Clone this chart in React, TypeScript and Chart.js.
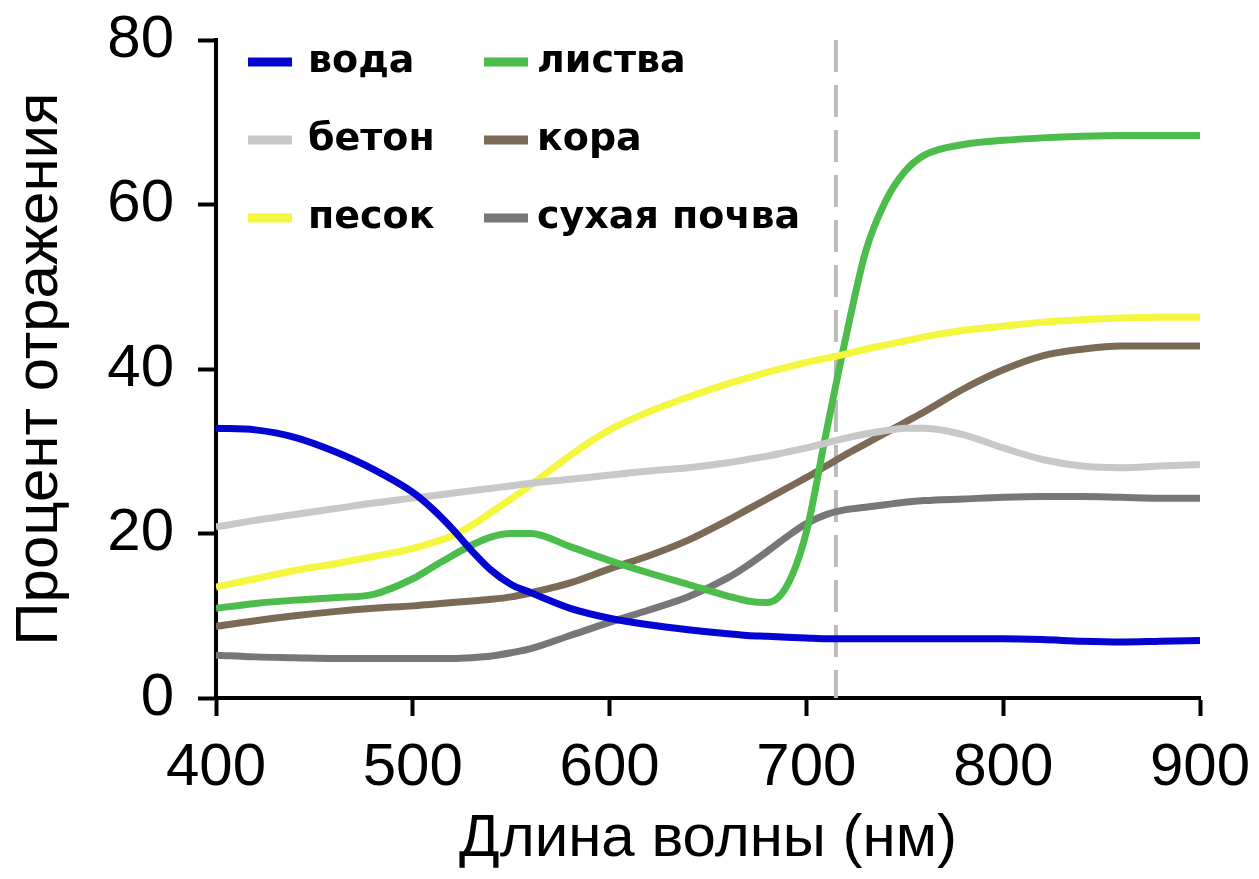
import React, { useEffect, useRef } from "react";
import { Chart, registerables } from "chart.js";

Chart.register(...registerables);

const WAVELENGTHS = [400, 420, 440, 460, 480, 500, 510, 520, 530, 540, 550, 560, 580, 600, 620, 640, 660, 670, 680, 690, 700, 710, 720, 730, 740, 750, 760, 780, 800, 820, 840, 860, 880, 900];

const WATER = [32.8, 32.6, 31.7, 30.0, 27.8, 25.0, 23.0, 20.6, 17.9, 15.5, 13.8, 12.8, 10.9, 9.7, 8.9, 8.3, 7.8, 7.6, 7.5, 7.4, 7.3, 7.2, 7.2, 7.2, 7.2, 7.2, 7.2, 7.2, 7.2, 7.1, 6.9, 6.8, 6.9, 7.0];
const CONCRETE = [20.8, 21.6, 22.3, 23.0, 23.7, 24.3, 24.6, 24.9, 25.2, 25.5, 25.8, 26.1, 26.6, 27.1, 27.6, 28.0, 28.6, 29.0, 29.4, 29.9, 30.4, 31.0, 31.6, 32.1, 32.5, 32.8, 32.8, 32.0, 30.4, 29.0, 28.2, 28.0, 28.2, 28.4];
const SAND = [13.5, 14.5, 15.5, 16.3, 17.2, 18.2, 18.9, 19.7, 21.0, 22.6, 24.2, 25.9, 29.5, 32.6, 34.8, 36.6, 38.2, 38.9, 39.6, 40.2, 40.8, 41.3, 41.8, 42.4, 42.9, 43.4, 43.9, 44.7, 45.2, 45.7, 46.0, 46.2, 46.3, 46.3];
const FOLIAGE = [10.9, 11.5, 11.9, 12.2, 12.6, 14.5, 15.9, 17.3, 18.6, 19.6, 20.0, 20.0, 18.4, 16.7, 15.2, 13.8, 12.4, 11.8, 11.6, 13.6, 20.2, 32.2, 43.8, 54.2, 60.3, 64.0, 66.0, 67.3, 67.8, 68.1, 68.3, 68.4, 68.4, 68.4];
const BARK = [8.7, 9.4, 10.0, 10.5, 10.9, 11.2, 11.4, 11.6, 11.8, 12.0, 12.3, 12.8, 14.0, 15.7, 17.3, 19.2, 21.6, 22.9, 24.2, 25.5, 26.8, 28.2, 29.6, 30.9, 32.2, 33.5, 34.8, 37.6, 39.9, 41.6, 42.4, 42.8, 42.8, 42.8];
const DRY_SOIL = [5.2, 5.0, 4.9, 4.8, 4.8, 4.8, 4.8, 4.8, 4.9, 5.1, 5.5, 6.0, 7.6, 9.2, 10.7, 12.3, 14.6, 16.1, 17.8, 19.6, 21.2, 22.3, 22.9, 23.2, 23.5, 23.8, 24.0, 24.2, 24.4, 24.5, 24.5, 24.4, 24.3, 24.3];

const SERIES_LABELS = ["вода", "бетон", "песок", "листва", "кора", "сухая почва"];
const SERIES_VALUES = [WATER, CONCRETE, SAND, FOLIAGE, BARK, DRY_SOIL];
const SERIES_COLORS = ["#0505d2", "#c8c8c8", "#f4f640", "#4cbd4c", "#7b6a55", "#777777"];

const X_TICKS = [400, 500, 600, 700, 800, 900];
const Y_TICKS = [0, 20, 40, 60, 80];
const MARKER_WAVELENGTH = 715;

const X_TITLE = "Длина волны (нм)";
const Y_TITLE = "Процент отражения";

const AXIS_FONT = { family: "'Liberation Sans', Arial, sans-serif", size: 60 };

const legendPlugin = {
  id: "gridLegend",
  afterDraw(chart: any) {
    const ctx = chart.ctx;
    const colX = [248, 484];
    const textX = [308, 537];
    const rowY = [62, 140, 218];
    ctx.save();
    ctx.font = "bold 38px 'DejaVu Sans', sans-serif";
    ctx.textBaseline = "middle";
    ctx.textAlign = "left";
    chart.data.datasets.forEach((ds: any, i: number) => {
      const col = Math.floor(i / 3);
      const row = i % 3;
      ctx.fillStyle = ds.borderColor;
      ctx.fillRect(colX[col], rowY[row] - 4.5, 44, 9);
      ctx.fillStyle = "#000";
      ctx.fillText(ds.label, textX[col], rowY[row]);
    });
    ctx.restore();
  },
};

const markerPlugin = {
  id: "markerLine",
  beforeDatasetsDraw(chart: any) {
    const { ctx, chartArea, scales } = chart;
    const x = scales.x.getPixelForValue(MARKER_WAVELENGTH);
    ctx.save();
    ctx.strokeStyle = "#bbbbbb";
    ctx.lineWidth = 4;
    ctx.setLineDash([32, 13]);
    ctx.beginPath();
    ctx.moveTo(x, chartArea.top);
    ctx.lineTo(x, chartArea.bottom);
    ctx.stroke();
    ctx.restore();
  },
};

export default function App() {
  const canvasRef = useRef<HTMLCanvasElement | null>(null);

  useEffect(() => {
    if (!canvasRef.current) return;
    const datasets = SERIES_LABELS.map((label, i) => ({
      label,
      data: WAVELENGTHS.map((x, j) => ({ x, y: SERIES_VALUES[i][j] })),
      borderColor: SERIES_COLORS[i],
      backgroundColor: SERIES_COLORS[i],
      borderWidth: 7,
      pointRadius: 0,
      cubicInterpolationMode: "monotone" as const,
      fill: false,
    }));
    const chart = new Chart(canvasRef.current, {
      type: "line",
      data: { datasets },
      options: {
        responsive: false,
        animation: false,
        layout: { padding: { top: 40, right: 59, left: 0, bottom: 0 } },
        plugins: { legend: { display: false }, tooltip: { enabled: false } },
        scales: {
          x: {
            type: "linear",
            min: 400,
            max: 900,
            afterBuildTicks: (scale: any) => {
              scale.ticks = X_TICKS.map((v) => ({ value: v }));
            },
            afterFit: (scale: any) => {
              scale.height = 181;
              scale.paddingLeft = 0;
              scale.paddingRight = 0;
            },
            ticks: { color: "#000", font: AXIS_FONT, padding: 16, maxRotation: 0, autoSkip: false },
            grid: { drawOnChartArea: false, tickLength: 18, tickWidth: 4, tickColor: "#000" },
            border: { color: "#000", width: 4 },
            title: { display: true, text: X_TITLE, color: "#000", font: AXIS_FONT, padding: { top: 0, bottom: 4 } },
          },
          y: {
            type: "linear",
            min: 0,
            max: 80,
            afterBuildTicks: (scale: any) => {
              scale.ticks = Y_TICKS.map((v) => ({ value: v }));
            },
            afterFit: (scale: any) => {
              scale.width = 216;
              scale.paddingTop = 0;
              scale.paddingBottom = 0;
            },
            ticks: { color: "#000", font: AXIS_FONT, padding: 24 },
            grid: { drawOnChartArea: false, tickLength: 18, tickWidth: 4, tickColor: "#000" },
            border: { color: "#000", width: 4 },
            title: { display: true, text: Y_TITLE, color: "#000", font: AXIS_FONT, padding: { top: 4, bottom: 0 } },
          },
        },
      },
      plugins: [markerPlugin, legendPlugin],
    });
    return () => chart.destroy();
  }, []);

  return (
    <div style={{ position: "fixed", left: 0, top: 0, width: 1259, height: 879, background: "#fff" }}>
      <canvas ref={canvasRef} width={1259} height={879} style={{ display: "block" }} />
    </div>
  );
}
